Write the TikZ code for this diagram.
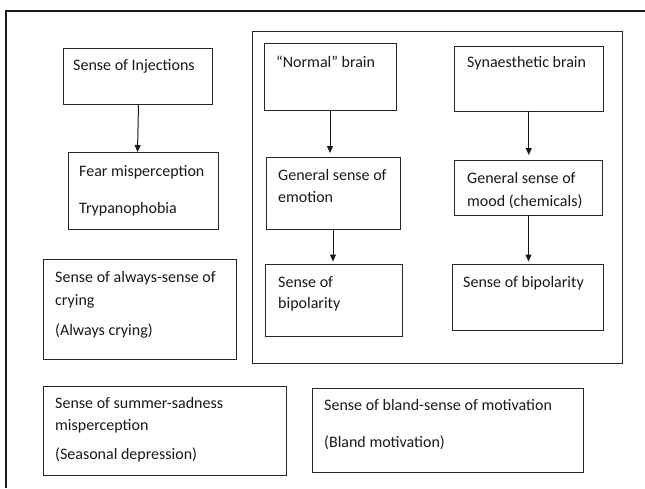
\documentclass[tikz,border=0pt]{standalone}
\usepackage{fontspec}
\setmainfont{Carlito}
\usetikzlibrary{arrows.meta,fit}

\begin{document}
\begin{tikzpicture}[
  x=1pt, y=-1pt,
  box/.style={draw=black!85, line width=1pt, inner sep=0pt, outer sep=0pt},
  txt/.style={anchor=base west, inner sep=0pt, text=black!90,
              font=\fontsize{16}{19}\selectfont},
  arr/.style={draw=black!90, line width=1pt,
              -{Triangle[length=7pt,width=6pt]}},
  frame/.style={draw=black!90, line width=2pt}
]
\useasboundingbox (0,0) rectangle (645,488);

% open page frame (top and left edges)
\coordinate (fr) at (645,10.5);
\coordinate (fc) at (6,10.5);
\coordinate (fb) at (6,488);
\draw[frame] (fr) -- (fc) -- (fb);

% injections chain
\node[box, fit={(63,48) (212,104)}] (inj) {};
\node[box, fit={(68,152) (218,229)}] (fear) {};
\node[txt] at (73,70) {Sense of Injections};
\node[txt] at (79,176) {Fear misperception};
\node[txt] at (79,213) {Trypanophobia};

% grouped comparison of the two brains
\node[box, fit={(252.5,31) (622.5,363)}] (group) {};
\node[box, fit={(264,43) (396,110)}] (normal) {};
\node[box, fit={(454.5,46) (603,111)}] (syn) {};
\node[box, fit={(266,157) (400,229)}] (emo) {};
\node[box, fit={(454.5,160) (602.5,215)}] (mood) {};
\node[box, fit={(265,264) (402,336)}] (bipL) {};
\node[box, fit={(452,264) (603,330)}] (bipR) {};

\node[txt] at (276,67) {“Normal” brain};
\node[txt] at (467,67) {Synaesthetic brain};
\node[txt] at (278,180) {General sense of};
\node[txt] at (278,202) {emotion};
\node[txt] at (467,183) {General sense of};
\node[txt] at (467,206) {mood (chemicals)};
\node[txt] at (278,287) {Sense of};
\node[txt] at (278,308) {bipolarity};
\node[txt] at (463,287) {Sense of bipolarity};

% stand-alone boxes
\node[box, fit={(43,259) (236.5,359)}] (cry) {};
\node[txt] at (55,282) {Sense of always-sense of};
\node[txt] at (55,305) {crying};
\node[txt] at (55,335) {(Always crying)};

\node[box, fit={(43,386) (286.5,475)}] (summer) {};
\node[txt] at (55,408) {Sense of summer-sadness};
\node[txt] at (55,430) {misperception};
\node[txt] at (55,459) {(Seasonal depression)};

\node[box, fit={(312.5,388) (583,472.5)}] (bland) {};
\node[txt] at (324,410) {Sense of bland-sense of motivation};
\node[txt] at (324,447) {(Bland motivation)};

% connectors
\draw[arr] ([xshift=1pt]inj.south) -- (inj.south |- fear.north);
\draw[arr, shorten >=4pt] (normal.south) -- (normal.south |- emo.north);
\draw[arr, shorten >=5pt] (syn.south) -- (syn.south |- mood.north);
\draw[arr, shorten >=2.5pt] (emo.south) -- (emo.south |- bipL.north);
\draw[arr, shorten >=2.5pt] (mood.south) -- (mood.south |- bipR.north);
\end{tikzpicture}
\end{document}
